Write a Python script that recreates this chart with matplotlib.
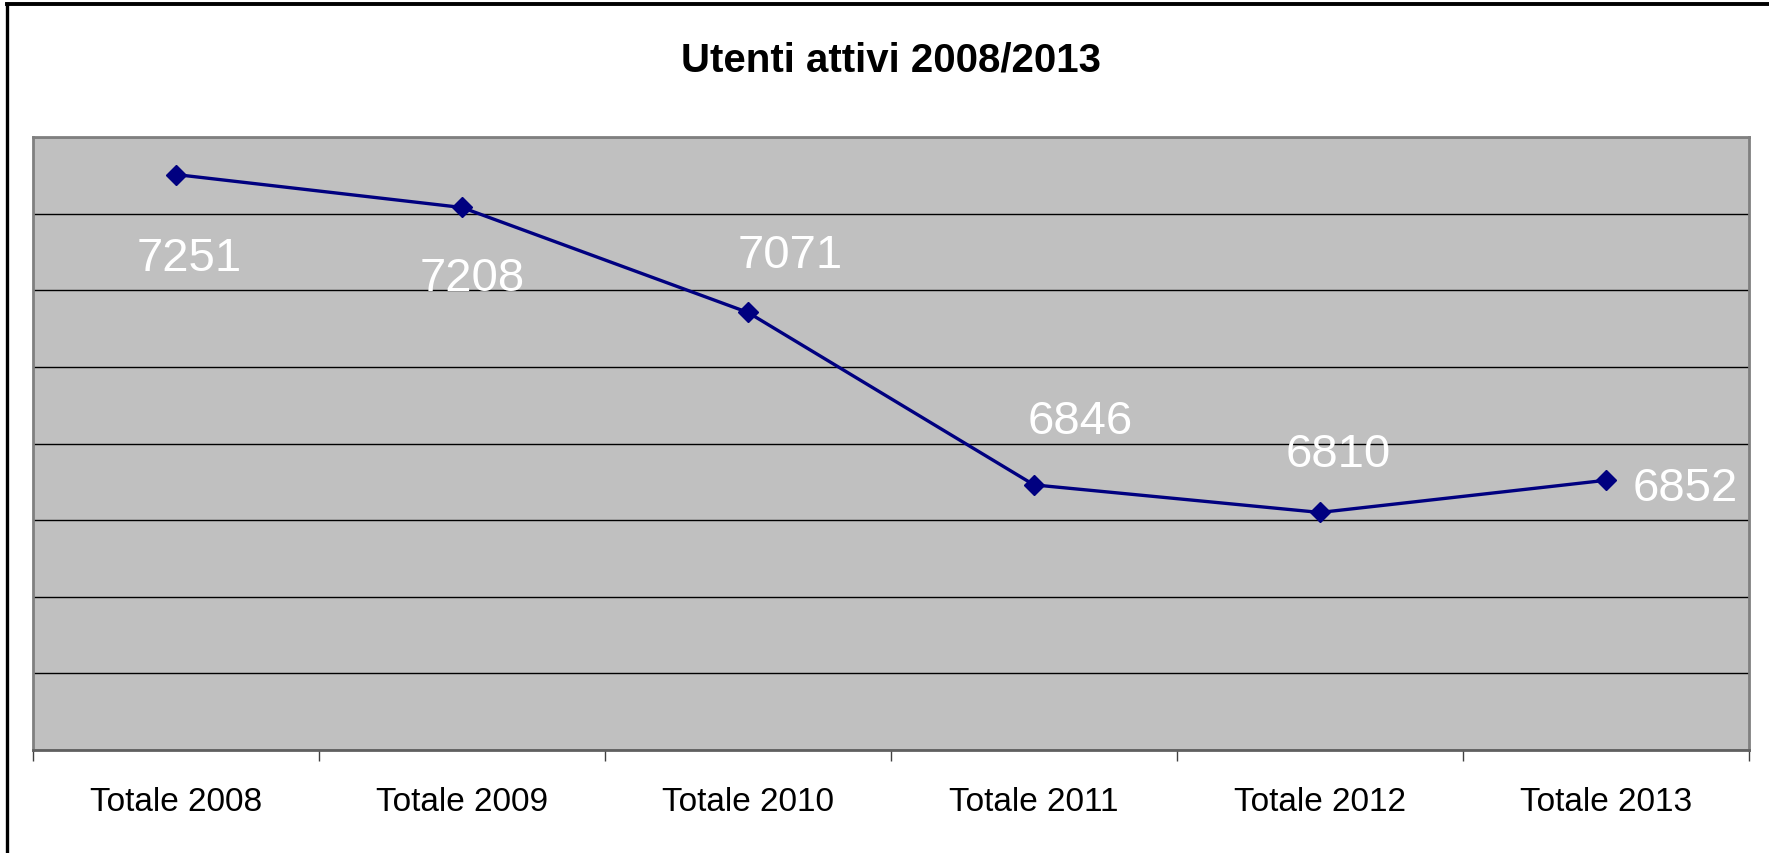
import matplotlib
matplotlib.use("Agg")
import matplotlib.pyplot as plt
from matplotlib import font_manager as fm
from matplotlib.lines import Line2D
import numpy as np

# ---- data ----
categories = ["Totale 2008", "Totale 2009", "Totale 2010", "Totale 2011", "Totale 2012", "Totale 2013"]
values = [7251, 7208, 7071, 6846, 6810, 6852]
title = "Utenti attivi 2008/2013"

# ---- styling / label placement (pixels) ----
label_offsets = [(13, -95), (10, -83), (42, 45), (46, 52), (18, 46), (79, -20)]

names = {f.name for f in fm.fontManager.ttflist}
narrow = "Liberation Sans Narrow" in names
if narrow:
    tick_family, tick_size = "Liberation Sans Narrow", 28
    title_family, title_size = "Liberation Sans Narrow", 34
else:
    tick_family, tick_size = "Liberation Sans", 24
    title_family, title_size = "Liberation Sans", 29

W, H = 1769, 854
fig = plt.figure(figsize=(W / 100, H / 100), dpi=100)
fig.patch.set_facecolor("white")

ax = fig.add_axes([33 / W, (H - 751) / H, (1749 - 33) / W, (751 - 138) / H])
ax.set_facecolor("#C0C0C0")

x = np.arange(len(categories))
ax.plot(x, values, color="#000080", lw=2.4, marker="D", markersize=10.5,
        markerfacecolor="#000080", markeredgecolor="#000080", zorder=3)

ax.set_xlim(-0.5, len(categories) - 0.5)
ax.set_ylim(6500, 7300)
ax.set_yticks(np.arange(6500, 7301, 100))
ax.yaxis.grid(True, color="black", lw=1.0)
ax.set_axisbelow(True)
ax.tick_params(axis="y", left=False, labelleft=False)

ax.set_xticks(x)
ax.set_xticklabels(categories, fontsize=tick_size, family=tick_family, color="black")
ax.tick_params(axis="x", which="major", length=0, pad=26)
ax.set_xticks(np.arange(-0.5, len(categories), 1.0), minor=True)
ax.tick_params(axis="x", which="minor", length=8, width=1, color="#404040", direction="out")

for s in ["top", "left", "right"]:
    ax.spines[s].set_color("#808080")
    ax.spines[s].set_linewidth(2)
ax.spines["bottom"].set_color("#606060")
ax.spines["bottom"].set_linewidth(2)

for xi, v, off in zip(x, values, label_offsets):
    ax.annotate(str(v), (xi, v), xytext=off, textcoords="offset pixels",
                ha="center", va="baseline", color="white",
                fontsize=34, family="Liberation Sans", zorder=4)

fig.text(891 / W, 1 - 60 / H, title, ha="center", va="center",
         fontsize=title_size, fontweight="bold", family=title_family, color="black")

# outer frame (top and left visible)
fig.add_artist(Line2D([7 / W, 1], [1 - 5 / H, 1 - 5 / H], transform=fig.transFigure,
                      color="black", lw=2.8))
fig.add_artist(Line2D([7 / W, 7 / W], [0, 1 - 5 / H], transform=fig.transFigure,
                      color="black", lw=2.4))

fig.savefig("out.png", dpi=100, facecolor="white")
